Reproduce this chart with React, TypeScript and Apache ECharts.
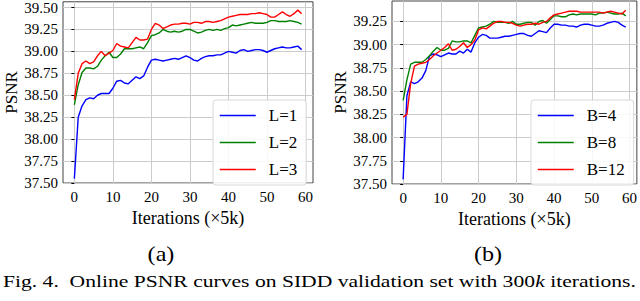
import React, { useEffect, useRef } from 'react';
import * as echarts from 'echarts';

// x positions: iteration index (×5k)
const iterations: number[] = Array.from({ length: 60 }, (_, i) => i);

const xTickValues = [0, 10, 20, 30, 40, 50, 60];
const yTickValuesA = [37.5, 37.75, 38.0, 38.25, 38.5, 38.75, 39.0, 39.25, 39.5];
const yTickValuesB = [37.5, 37.75, 38.0, 38.25, 38.5, 38.75, 39.0, 39.25];

// (a) layers L
const psnrL1 = [
  37.55, 38.25, 38.38, 38.45, 38.47, 38.46, 38.50, 38.52, 38.52, 38.52,
  38.58, 38.66, 38.67, 38.64, 38.63, 38.67, 38.71, 38.69, 38.72, 38.82,
  38.90, 38.91, 38.90, 38.89, 38.90, 38.91, 38.92, 38.91, 38.93, 38.95,
  38.93, 38.90, 38.89, 38.92, 38.94, 38.95, 38.95, 38.96, 38.96, 38.98,
  39.00, 38.99, 38.98, 39.01, 39.02, 39.00, 39.01, 39.02, 39.02, 39.01,
  38.99, 39.01, 39.03, 39.04, 39.05, 39.04, 39.04, 39.05, 39.06, 39.02,
];
const psnrL2 = [
  38.39, 38.62, 38.76, 38.81, 38.81, 38.80, 38.83, 38.90, 38.95, 38.99,
  38.93, 38.93, 38.97, 39.03, 39.03, 39.03, 39.04, 39.05, 39.03, 39.10,
  39.18, 39.19, 39.21, 39.25, 39.23, 39.22, 39.23, 39.22, 39.23, 39.25,
  39.25, 39.23, 39.21, 39.22, 39.24, 39.25, 39.24, 39.25, 39.24, 39.26,
  39.27, 39.30, 39.29, 39.30, 39.31, 39.32, 39.33, 39.32, 39.32, 39.32,
  39.33, 39.35, 39.35, 39.34, 39.34, 39.34, 39.35, 39.34, 39.33, 39.31,
];
const psnrL3 = [
  38.45, 38.75, 38.86, 38.89, 38.86, 38.88, 38.95, 39.00, 38.95, 38.98,
  39.01, 39.09, 39.06, 39.05, 39.04, 39.10, 39.16, 39.13, 39.13, 39.14,
  39.25, 39.32, 39.30, 39.26, 39.28, 39.30, 39.31, 39.31, 39.32, 39.32,
  39.31, 39.33, 39.33, 39.32, 39.34, 39.34, 39.33, 39.34, 39.35, 39.37,
  39.39, 39.40, 39.41, 39.42, 39.42, 39.42, 39.43, 39.43, 39.44, 39.43,
  39.42, 39.39, 39.39, 39.42, 39.45, 39.42, 39.40, 39.43, 39.47, 39.43,
];

// (b) batch B
const psnrB4 = [
  37.55, 38.45, 38.60, 38.58, 38.60, 38.64, 38.72, 38.88, 38.90, 38.89,
  38.87, 38.89, 38.91, 38.90, 38.90, 38.93, 38.91, 38.95, 38.92, 39.02,
  39.08, 39.11, 39.10, 39.07, 39.07, 39.07, 39.08, 39.09, 39.09, 39.10,
  39.11, 39.12, 39.12, 39.10, 39.09, 39.12, 39.15, 39.14, 39.13, 39.18,
  39.22, 39.22, 39.21, 39.21, 39.20, 39.20, 39.19, 39.21, 39.22, 39.22,
  39.21, 39.20, 39.20, 39.21, 39.23, 39.24, 39.25, 39.24, 39.21, 39.19,
];
const psnrB8 = [
  38.40, 38.62, 38.79, 38.81, 38.81, 38.81, 38.84, 38.88, 38.93, 38.97,
  38.94, 38.94, 38.96, 39.04, 39.03, 39.03, 39.04, 39.04, 39.02, 39.10,
  39.18, 39.19, 39.20, 39.22, 39.25, 39.24, 39.24, 39.24, 39.23, 39.25,
  39.22, 39.22, 39.23, 39.24, 39.24, 39.21, 39.25, 39.26, 39.23, 39.27,
  39.31, 39.31, 39.30, 39.30, 39.32, 39.33, 39.32, 39.33, 39.33, 39.33,
  39.33, 39.32, 39.34, 39.34, 39.35, 39.34, 39.33, 39.33, 39.34, 39.31,
];
const psnrB12 = [
  38.22, 38.25, 38.58, 38.77, 38.79, 38.80, 38.81, 38.84, 38.88, 38.91,
  38.94, 38.97, 39.01, 38.94, 38.95, 38.98, 39.02, 38.97, 39.00, 39.05,
  39.16, 39.18, 39.17, 39.20, 39.23, 39.25, 39.25, 39.24, 39.24, 39.23,
  39.21, 39.20, 39.21, 39.22, 39.22, 39.23, 39.22, 39.24, 39.25, 39.29,
  39.32, 39.33, 39.34, 39.35, 39.36, 39.36, 39.36, 39.35, 39.35, 39.35,
  39.35, 39.35, 39.35, 39.34, 39.35, 39.36, 39.35, 39.34, 39.33, 39.37,
];

const seriesA = [
  { name: 'L=1', data: psnrL1, color: '#0000ff' },
  { name: 'L=2', data: psnrL2, color: '#008000' },
  { name: 'L=3', data: psnrL3, color: '#ff0000' },
];
const seriesB = [
  { name: 'B=4', data: psnrB4, color: '#0000ff' },
  { name: 'B=8', data: psnrB8, color: '#008000' },
  { name: 'B=12', data: psnrB12, color: '#ff0000' },
];

const FONT = 'Liberation Serif';

function makeX(gridIndex: number) {
  return {
    type: 'value',
    gridIndex,
    min: -2.95,
    max: 61.95,
    axisLine: { show: false },
    axisTick: { show: false, customValues: xTickValues },
    axisLabel: {
      customValues: xTickValues,
      fontFamily: FONT,
      fontSize: 15,
      color: '#000',
      margin: 6,
    },
    splitLine: { show: true, lineStyle: { color: '#cccccc', width: 1 } },
    name: 'Iterations (×5k)',
    nameLocation: 'middle',
    nameGap: 24,
    nameTextStyle: { fontFamily: FONT, fontSize: 18, color: '#000' },
  };
}

function makeY(gridIndex: number, max: number, ticks: number[], nameGap: number) {
  return {
    type: 'value',
    gridIndex,
    min: 37.5,
    max,
    axisLine: { show: false },
    axisTick: {
      show: true,
      customValues: ticks,
      length: 3,
      lineStyle: { color: '#000', width: 1 },
    },
    axisLabel: {
      customValues: ticks,
      formatter: (v: number) => v.toFixed(2),
      fontFamily: FONT,
      fontSize: 15,
      color: '#000',
      margin: 5,
    },
    splitLine: { show: true, lineStyle: { color: '#cccccc', width: 1 } },
    name: 'PSNR',
    nameLocation: 'middle',
    nameGap,
    nameTextStyle: { fontFamily: FONT, fontSize: 17, color: '#000' },
  };
}

function makeLegend(names: string[], left: number, top: number) {
  return {
    data: names,
    orient: 'vertical',
    left,
    top,
    itemWidth: 36,
    itemHeight: 14,
    itemGap: 10,
    padding: [7, 9, 7, 6],
    backgroundColor: 'rgba(255,255,255,0.85)',
    borderColor: '#d8d8d8',
    borderWidth: 1,
    borderRadius: 3,
    itemStyle: { color: 'rgba(0,0,0,0)', borderWidth: 0, opacity: 0 },
    lineStyle: { width: 1.5 },
    textStyle: { fontFamily: FONT, fontSize: 17, color: '#000', padding: [0, 0, 0, 8] },
  };
}

export default function App() {
  const ref = useRef<HTMLDivElement>(null);

  useEffect(() => {
    document.body.style.margin = '0';
    if (!ref.current) return;
    const chart = echarts.init(ref.current, undefined, { renderer: 'svg' });

    const lineSeries = (list: typeof seriesA, axisIndex: number) =>
      list.map((s) => ({
        type: 'line',
        name: s.name,
        xAxisIndex: axisIndex,
        yAxisIndex: axisIndex,
        data: s.data.map((v, i) => [iterations[i], v]),
        symbol: 'none',
        showSymbol: false,
        lineStyle: { color: s.color, width: 1.4 },
        itemStyle: { color: s.color },
        clip: true,
      }));

    chart.setOption({
      animation: false,
      backgroundColor: '#fff',
      grid: [
        { left: 63, right: 327, top: 1, bottom: 118, show: true, borderColor: '#444', borderWidth: 1, containLabel: false },
        { left: 392, right: 1, top: 1, bottom: 117, show: true, borderColor: '#444', borderWidth: 1, containLabel: false },
      ],
      xAxis: [makeX(0), makeX(1)],
      yAxis: [makeY(0, 39.565, yTickValuesA, 33), makeY(1, 39.47, yTickValuesB, 40)],
      legend: [
        makeLegend(seriesA.map((s) => s.name), 213, 100),
        makeLegend(seriesB.map((s) => s.name), 531, 100),
      ],
      series: [...lineSeries(seriesA, 0), ...lineSeries(seriesB, 1)],
      graphic: [
        {
          type: 'text',
          x: 161,
          y: 254,
          scaleX: 1.15,
          style: { text: '(a)', fontFamily: FONT, fontSize: 21, fill: '#000', align: 'center', verticalAlign: 'middle' },
        },
        {
          type: 'text',
          x: 488,
          y: 254,
          scaleX: 1.15,
          style: { text: '(b)', fontFamily: FONT, fontSize: 21, fill: '#000', align: 'center', verticalAlign: 'middle' },
        },
        {
          type: 'text',
          x: 3,
          y: 282,
          scaleX: 1.35,
          style: {
            text: 'Fig. 4.  Online PSNR curves on SIDD validation set with 300{i|k} iterations.',
            rich: { i: { fontStyle: 'italic', fontFamily: FONT, fontSize: 16 } },
            fontFamily: FONT,
            fontSize: 16,
            fill: '#000',
            align: 'left',
            verticalAlign: 'middle',
          },
        },
      ],
    });

    return () => chart.dispose();
  }, []);

  return <div ref={ref} style={{ width: 640, height: 301 }} />;
}
